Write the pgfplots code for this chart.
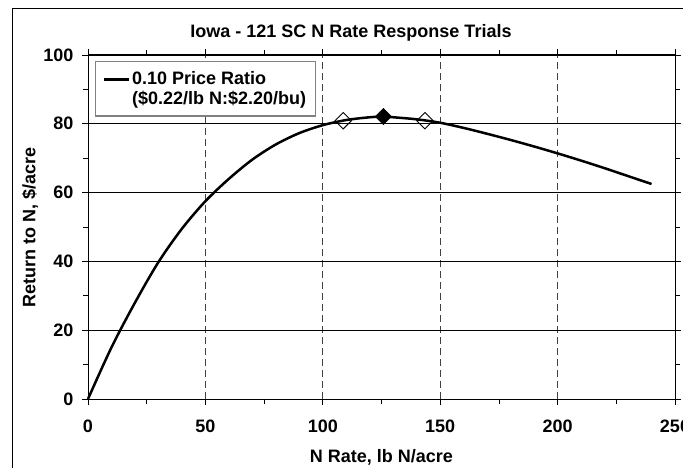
\documentclass[border=0pt]{standalone}
\usepackage{pgfplots}
\pgfplotsset{compat=1.18}
\usepackage{fontspec}
\setmainfont{Liberation Sans}
\pgfplotstableread{
x y
0 0
10 15
20 28
30 39.8
40 49.5
50 57.5
60 64
70 69.6
80 74
90 77.3
100 79.6
110 81.1
120 81.9
126 82.1
130 81.9
140 81.3
150 80.3
160 78.8
170 77.1
180 75.3
190 73.4
200 71.4
210 69.3
220 67.1
230 64.8
240 62.5
}\curve
\newcommand\ff{\fontsize{18bp}{20bp}\selectfont\bfseries}
\begin{document}
\begin{tikzpicture}[font=\ff]
\path[use as bounding box] (0bp,0bp) rectangle (683bp,468bp);
\draw[line width=1bp] (12bp,459bp) rectangle (720bp,-20bp);
\node at (351bp,435bp) {Iowa - 121 SC N Rate Response Trials};
\begin{axis}[
  at={(88bp,69bp)}, anchor=south west,
  scale only axis, width=587bp, height=344bp,
  xmin=0, xmax=250, ymin=0, ymax=100,
  xtick={0,50,...,250}, ytick={0,20,...,100},
  minor xtick={25,75,...,225}, minor ytick={10,30,...,90},
  tick align=outside, major tick length=6bp, minor tick length=5bp,
  tick style={black, line width=0.8bp},
  axis line style={line width=1bp},
  /pgf/number format/assume math mode=true,
  ticklabel style={font=\ff},
  xticklabel style={yshift=-11bp},
  yticklabel style={xshift=-5bp},
  xmajorgrids, ymajorgrids,
  x grid style={black!75, line width=0.8bp, dash pattern=on 7bp off 4bp},
  y grid style={black, line width=0.8bp},
  xlabel={N Rate, lb N/acre}, ylabel={Return to N, \$/acre},
  xlabel style={at={(axis description cs:0.5,0)}, anchor=center, yshift=-58bp, font=\ff},
  ylabel style={at={(axis description cs:0,0.5)}, anchor=center, yshift=58bp, font=\ff},
  legend style={at={(0.012,0.983)}, anchor=north west, draw=black!50, line width=1.2bp,
    font=\ff, cells={align=left},
    inner xsep=7bp, inner ysep=8bp},
  legend image code/.code={\draw[line width=2.5bp] (0bp,9bp) -- (25bp,9bp);},
  clip=false,
]
\addplot[black, line width=2.5bp, smooth] table {\curve};
\addlegendentry{0.10 Price Ratio\\(\$0.22/lb N:\$2.20/bu)}
\addplot[forget plot, only marks, mark=square, mark size=5.8bp, mark options={rotate=45, fill=white, draw=black, line width=0.9bp}] coordinates {(108.7,80.9) (143.5,80.9)};
\addplot[forget plot, only marks, mark=square*, mark size=5.8bp, mark options={rotate=45, fill=black, draw=black}] coordinates {(125.8,82.1)};
\end{axis}
\end{tikzpicture}
\end{document}
